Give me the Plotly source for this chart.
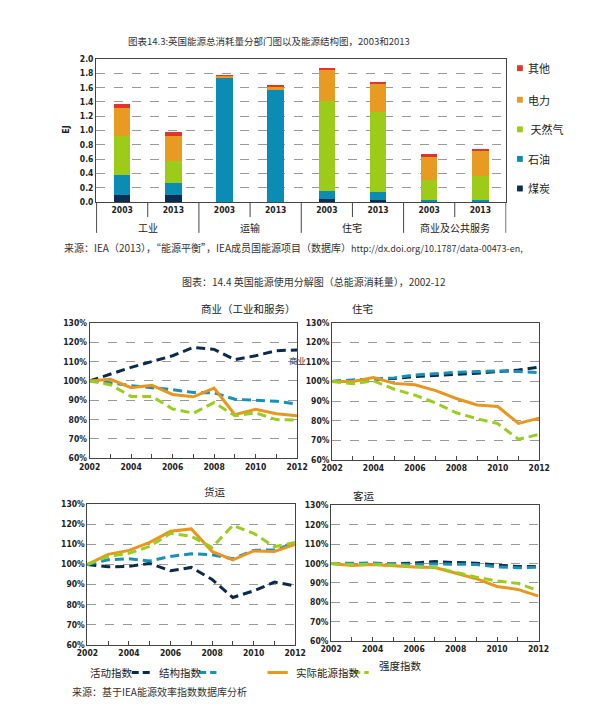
import plotly.graph_objects as go

W, H = 600, 707
def fx(p):
    return p / W
def fy(p):
    return 1 - p / H

CJK = "Noto Sans CJK SC"
NUM = "Liberation Sans Narrow, DejaVu Sans Condensed, Liberation Sans, " + CJK

# ---------------- bar chart data ----------------
sectors = ["工业", "运输", "住宅", "商业及公共服务"]
years_bar = ["2003", "2013"]
fuels = ["煤炭", "石油", "天然气", "电力", "其他"]
fuel_colors = ["#0b2d52", "#0b8cb4", "#9dcb19", "#e79b22", "#e0342d"]
coal = [0.10, 0.10, 0.00, 0.005, 0.04, 0.025, 0.005, 0.005]
oil = [0.28, 0.17, 1.74, 1.575, 0.12, 0.11, 0.025, 0.02]
gas = [0.54, 0.31, 0.00, 0.00, 1.25, 1.12, 0.28, 0.345]
elec = [0.40, 0.345, 0.03, 0.025, 0.44, 0.40, 0.32, 0.35]
other = [0.05, 0.055, 0.005, 0.03, 0.015, 0.03, 0.035, 0.02]
fuel_values = [coal, oil, gas, elec, other]

# ---------------- line chart data ----------------
years = list(range(2002, 2013))
idx_names = ["活动指数", "结构指数", "实际能源指数", "强度指数"]
idx_colors = ["#0b2a4c", "#1990b8", "#e8961e", "#9acd1f"]
idx_dash = ["9px,5px", "9px,5px", "solid", "9px,5px"]

com_activity = [100, 103.5, 107, 110, 113, 117.3, 116.3, 111, 113, 115.6, 116]
com_structure = [100, 99, 97.5, 96.5, 95.5, 94, 93.8, 90.5, 90, 89.5, 88]
com_real = [100, 100.8, 96.5, 97.7, 93, 91.8, 96.3, 82.5, 85.3, 83, 82]
com_intensity = [100, 98, 92, 92, 85.5, 83.3, 88.8, 82, 83.5, 80, 79.8]

res_activity = [100, 100.5, 101, 101.5, 102.5, 103, 103.7, 104.2, 105, 105.8, 107.3]
res_structure = [100, 100.7, 101, 101.8, 103.3, 104, 104.6, 105, 105.3, 105, 104.5]
res_real = [100, 100, 102, 99, 98.3, 95.3, 91.3, 88, 87.2, 78.6, 81.3]
res_intensity = [100, 98.8, 100.3, 96, 93, 89, 84, 81, 78.5, 70.5, 73]

fr_activity = [100, 98.8, 99, 100.5, 96.8, 98.5, 92.5, 83.5, 86.8, 91.2, 89.3]
fr_structure = [100, 102.3, 102.8, 101.7, 104, 105.3, 104.8, 102.8, 107, 107.3, 110.5]
fr_real = [100, 105, 107, 111, 116.5, 117.7, 106.5, 102.3, 106.7, 106.5, 110]
fr_intensity = [100, 104, 105.5, 109, 115.5, 114, 108.5, 119.5, 115.5, 108.8, 111]

pa_activity = [100, 99.8, 100, 99.8, 100.3, 101, 100.5, 100.2, 99.2, 98.5, 98.5]
pa_structure = [100, 100, 100.3, 99.8, 99.5, 99.8, 99.7, 99.5, 98.3, 97.8, 98.2]
pa_real = [100, 99, 99.5, 98.8, 98.2, 98, 95, 92.2, 88.2, 86.7, 83.2]
pa_intensity = [100, 99.5, 99.6, 99.3, 98.5, 98, 95.5, 93, 91, 89.8, 86]

panels = [
    ("商业（工业和服务）", [com_activity, com_structure, com_real, com_intensity]),
    ("住宅", [res_activity, res_structure, res_real, res_intensity]),
    ("货运", [fr_activity, fr_structure, fr_real, fr_intensity]),
    ("客运", [pa_activity, pa_structure, pa_real, pa_intensity]),
]
# pixel boxes: (left, right, top, bottom), title (cx, cy)
panel_boxes = [
    ((73.3, 288.7, 314.3, 451.7), (187, 300)),
    ((325, 540, 314, 453.3), (357, 300)),
    ((71, 286.7, 498.3, 640.7), (190, 485)),
    ((324, 539.3, 499.3, 637.3), (358, 489)),
]

fig = go.Figure()

# ---------------- bars ----------------
bar_keys = [f"{s}|{y}" for s in sectors for y in years_bar]
bar_ticks = [y for s in sectors for y in years_bar]
for name, vals, col in zip(fuels, fuel_values, fuel_colors):
    fig.add_trace(go.Bar(x=bar_keys, y=vals, name=name, marker_color=col,
                         marker_line_width=0, showlegend=False,
                         xaxis="x", yaxis="y"))

frame = dict(showline=True, mirror=True, linecolor="#444", linewidth=1)
tfont = dict(family=NUM, size=8.5, color="#222", weight="bold")
fig.update_layout(
    barmode="stack", bargap=0.68,
    xaxis=dict(domain=[fx(80), fx(506)], anchor="y", tickvals=bar_keys,
               ticktext=bar_ticks, ticks="", tickfont=tfont, **frame),
    yaxis=dict(domain=[fy(191.7), fy(46.7)], anchor="x", range=[0, 2.0], dtick=0.2,
               tickformat=".1f", showgrid=True, griddash="dash", gridcolor="#9a9a9a",
               gridwidth=1, ticks="", zeroline=False, tickfont=tfont, **frame),
)

shapes = []
annotations = []
# category separators
for b in [-0.5, 1.5, 3.5, 5.5, 7.5]:
    shapes.append(dict(type="line", xref="x", yref="paper", x0=b, x1=b,
                       y0=fy(192), y1=fy(223), line=dict(color="#444", width=1)))
for b in [0.5, 2.5, 4.5, 6.5]:
    shapes.append(dict(type="line", xref="x", yref="paper", x0=b, x1=b,
                       y0=fy(192), y1=fy(207), line=dict(color="#444", width=1)))
for i, s in enumerate(sectors):
    annotations.append(dict(text=s, xref="x", yref="paper", x=2 * i + 0.5, y=fy(218),
                            showarrow=False, yanchor="middle",
                            font=dict(family=CJK, size=10, color="#222")))

# bar legend
leg_y = [178, 148, 118, 88, 56]
for name, col, yy in zip(fuels, fuel_colors, leg_y):
    shapes.append(dict(type="rect", xref="paper", yref="paper", x0=fx(517), x1=fx(523),
                       y0=fy(yy + 3), y1=fy(yy - 3), fillcolor=col, line=dict(width=0)))
    txt = (" " + name) if name == "天然气" else name
    annotations.append(dict(text=txt, xref="paper", yref="paper", x=fx(526), y=fy(yy),
                            xanchor="left", yanchor="middle", showarrow=False,
                            font=dict(family=CJK, size=11, color="#222")))

# ---------------- line panels ----------------
for k, ((title, series), (box, tpos)) in enumerate(zip(panels, panel_boxes)):
    n = k + 2
    xa, ya = f"x{n}", f"y{n}"
    l, r, t, b = box
    for name, vals, col, dsh in zip(idx_names, series, idx_colors, idx_dash):
        fig.add_trace(go.Scatter(x=years, y=vals, mode="lines", name=name,
                                 line=dict(color=col, width=3, dash=dsh),
                                 showlegend=False, xaxis=xa, yaxis=ya))
    fig.layout[f"xaxis{n}"] = dict(
        domain=[fx(l), fx(r)], anchor=ya, range=[2002, 2012],
        tickvals=years, ticktext=[str(y) if y % 2 == 0 else "" for y in years],
        ticks="inside", ticklen=4, tickcolor="#444", showgrid=False, zeroline=False,
        tickfont=tfont, **frame)
    fig.layout[f"yaxis{n}"] = dict(
        domain=[fy(b), fy(t)], anchor=xa, range=[60, 130], dtick=10, ticksuffix="%",
        showgrid=True, griddash="dash", gridcolor="#9a9a9a", gridwidth=1, ticks="",
        zeroline=False, tickfont=tfont, **frame)
    annotations.append(dict(text=title, xref="paper", yref="paper", x=fx(tpos[0]), y=fy(tpos[1]),
                            showarrow=False, yanchor="middle",
                            font=dict(family=CJK, size=10.5, color="#222")))

# line legend
leg_items = [
    # (text, text x, text y, symbol x0, x1)
    ("活动指数", 72, 669, 117, 137),
    ("结构指数", 143, 669, 187, 205),
    ("实际能源指数", 285, 669, 258, 279),
    ("强度指数", 372, 662, 347, 363),
]
for (txt, tx, ty, s0, s1), col, dsh in zip(leg_items, idx_colors, idx_dash):
    annotations.append(dict(text=txt, xref="paper", yref="paper", x=fx(tx), y=fy(ty),
                            xanchor="left", yanchor="middle", showarrow=False,
                            font=dict(family=CJK, size=10.5, color="#222")))
    shapes.append(dict(type="line", xref="paper", yref="paper", x0=fx(s0), x1=fx(s1),
                       y0=fy(669), y1=fy(669), line=dict(color=col, width=3,
                       dash="7px,4px" if dsh != "solid" else "solid")))

# texts
extra = [
    dict(text="图表14.3:英国能源总消耗量分部门图以及能源结构图，2003和2013", x=fx(260), y=fy(28),
         font=dict(family=CJK, size=9.5, color="#333")),
    dict(text="图表：14.4 英国能源使用分解图（总能源消耗量），2002-12", x=fx(306), y=fy(272)),
    dict(text="来源：IEA（2013），“能源平衡”，IEA成员国能源项目（数据库）"
              "<span style='font-size:9px'>http://dx.doi.org/10.1787/data-00473-en,</span>",
         x=fx(45), y=fy(238), xanchor="left"),
    dict(text="来源：基于IEA能源效率指数数据库分析", x=fx(53), y=fy(688), xanchor="left"),
    dict(text="EJ", x=fx(42), y=fy(118), textangle=-90,
         font=dict(family=NUM, size=9, color="#222", weight="bold")),
    dict(text="商业", x=fx(300), y=fy(352), xanchor="right",
         font=dict(family=CJK, size=8.5, color="#333")),
]
for a in extra:
    a.setdefault("xref", "paper")
    a.setdefault("yref", "paper")
    a.setdefault("showarrow", False)
    a.setdefault("yanchor", "middle")
    a.setdefault("font", dict(family=CJK, size=10, color="#333"))
annotations += extra

fig.update_layout(
    width=W, height=H, margin=dict(l=0, r=0, t=0, b=0),
    paper_bgcolor="white", plot_bgcolor="white",
    shapes=shapes, annotations=annotations, showlegend=False,
    font=dict(family=CJK, size=10, color="#222"),
)

fig.write_html("out.html")
